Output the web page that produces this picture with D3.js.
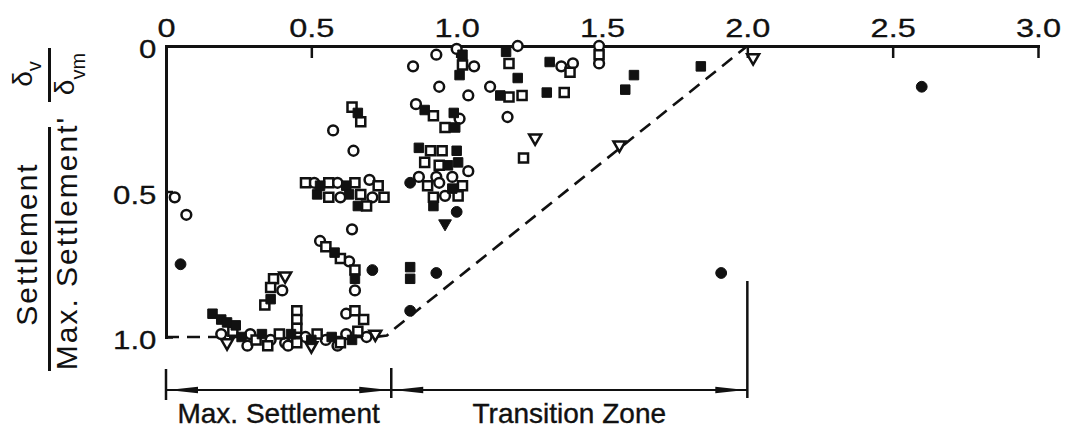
<!DOCTYPE html>
<html>
<head>
<meta charset="utf-8">
<script src="https://cdn.jsdelivr.net/npm/d3@7"></script>
<style>
  html, body { margin: 0; padding: 0; background: #fff; }
  svg { display: block; }
  text { fill: #111; font-family: "Liberation Sans", Arial, sans-serif; }
</style>
</head>
<body>
<svg id="chart" width="1066" height="432"></svg>
<script>
// Normalised settlement (δv / δvm) against distance ratio, grouped by marker type.
const xTicks = [0, 0.5, 1.0, 1.5, 2.0, 2.5, 3.0];
const yTicks = [0, 0.5, 1.0];

const openCircles = [
  [0.03,0.52],[0.07,0.58],
  [0.19,0.99],[0.29,0.99],[0.36,1.01],[0.28,1.03],[0.41,1.02],[0.42,1.03],[0.48,1.0],[0.55,1.01],
  [0.59,1.03],[0.62,0.99],[0.69,1.0],[0.62,0.92],
  [0.40,0.84],
  [0.53,0.67],[0.63,0.74],[0.65,0.84],
  [0.51,0.47],[0.59,0.47],[0.70,0.46],[0.60,0.52],[0.71,0.52],[0.64,0.63],
  [0.575,0.29],[0.645,0.36],
  [0.93,0.03],[0.85,0.07],[1.06,0.07],[0.94,0.14],[1.04,0.17],[0.86,0.20],[1.01,0.25],[1.0,0.01],
  [1.21,0.0],[1.115,0.14],[1.175,0.244],
  [1.36,0.07],[1.40,0.06],
  [1.49,0.0],[1.49,0.06],
  [1.04,0.43],[0.87,0.45],[0.93,0.45],[0.985,0.45],[0.94,0.47],[0.96,0.515]
];

const filledCircles = [
  [0.05,0.75],[0.71,0.77],[0.84,0.47],[1.0,0.57],[0.93,0.78],[0.84,0.91],[1.91,0.78],[2.6,0.14]
];

const openSquares = [
  [0.23,0.98],[0.31,1.01],[0.35,1.03],[0.39,0.99],[0.45,1.02],[0.45,0.91],[0.45,0.94],[0.45,0.97],
  [0.52,0.99],[0.60,1.02],[0.66,0.98],[0.65,0.91],[0.68,0.94],
  [0.37,0.80],[0.36,0.83],[0.34,0.89],
  [0.55,0.69],[0.60,0.73],[0.65,0.77],
  [0.48,0.47],[0.56,0.47],[0.65,0.47],[0.73,0.48],[0.56,0.52],[0.67,0.51],[0.75,0.52],[0.69,0.55],
  [0.64,0.21],[0.67,0.26],
  [1.02,0.065],[0.92,0.24],[0.96,0.28],
  [1.18,0.06],[1.18,0.175],[1.225,0.17],[1.23,0.385],
  [1.39,0.09],[1.37,0.16],
  [1.49,0.03],
  [0.91,0.36],[0.95,0.36],[0.89,0.40],[0.94,0.41],[0.90,0.48],[1.02,0.48],[0.92,0.52],[1.005,0.515]
];

const filledSquares = [
  [0.16,0.92],[0.19,0.94],[0.21,0.95],[0.24,0.96],[0.26,1.0],[0.33,0.99],[0.43,0.99],[0.50,1.01],
  [0.57,1.0],[0.64,1.01],
  [0.36,0.87],
  [0.58,0.71],[0.65,0.80],
  [0.53,0.48],[0.62,0.48],[0.52,0.51],[0.63,0.51],[0.66,0.55],
  [0.66,0.23],
  [1.02,0.03],[1.01,0.10],[0.89,0.22],[0.99,0.23],[0.995,0.28],
  [1.17,0.02],[1.21,0.11],[1.15,0.17],
  [1.32,0.055],[1.31,0.16],
  [1.61,0.10],[1.58,0.15],[1.84,0.07],
  [0.87,0.35],[1.0,0.36],[0.97,0.41],[1.005,0.40],[0.985,0.49],[0.92,0.55],
  [0.84,0.76],[0.84,0.80]
];

const openTriangles = [
  [0.21,1.02],[0.50,1.03],[0.72,0.99],[0.41,0.79],[1.27,0.316],[1.56,0.34],[2.02,0.04]
];

const filledTriangles = [[0.96,0.61]];

// Bounding envelope: flat at full settlement, then linear to zero at 2.0
const envelopeX = [0, 0.72, 0.76, 0.79, 2.0];
const envelopeY = [1.0, 1.0, 0.995, 0.968, 0.0];

// Zones marked beneath the plot
const zoneBounds = [0, 0.775, 2.0];
const zoneLabels = ["Max. Settlement", "Transition Zone"];

const svg = d3.select("#chart");
const ink = "#111";

const x = d3.scaleLinear().domain([0, 3]).range([166, 1038]);
const y = d3.scaleLinear().domain([0, 1]).range([46, 337]);

const fmt = d => d === 0 ? "0" : d.toFixed(1);

// Top axis (values printed above, ticks pointing into the plot)
const gx = svg.append("g")
  .attr("transform", `translate(0,${y(0)})`)
  .call(d3.axisTop(x).tickValues(xTicks).tickFormat(fmt)
    .tickSizeInner(-12).tickSizeOuter(0).tickPadding(9));
gx.select(".domain").attr("stroke", ink).attr("stroke-width", 3).attr("stroke-linecap", "square");
gx.selectAll(".tick line").attr("stroke", ink).attr("stroke-width", 2.5);
gx.selectAll(".tick text")
  .attr("fill", ink)
  .attr("stroke", ink).attr("stroke-width", 0.3)
  .style("font-family", "'Liberation Sans', Arial, sans-serif")
  .style("font-size", "26px")
  .attr("transform", "scale(1.25,1)");

// Left axis
const gy = svg.append("g")
  .attr("transform", `translate(${x(0)},0)`)
  .call(d3.axisLeft(y).tickValues(yTicks).tickFormat(fmt)
    .tickSizeInner(-7).tickSizeOuter(0).tickPadding(8));
gy.select(".domain").attr("stroke", ink).attr("stroke-width", 3).attr("stroke-linecap", "square");
gy.selectAll(".tick line").attr("stroke", ink).attr("stroke-width", 2.5);
gy.selectAll(".tick text")
  .attr("fill", ink)
  .attr("stroke", ink).attr("stroke-width", 0.3)
  .attr("dy", "0.45em")
  .style("font-family", "'Liberation Sans', Arial, sans-serif")
  .style("font-size", "26px")
  .attr("transform", "scale(1.2,1)");

// Envelope (dashed)
const envelope = envelopeX.map((v, i) => [v, envelopeY[i]]);
svg.append("path")
  .datum(envelope)
  .attr("fill", "none")
  .attr("stroke", ink)
  .attr("stroke-width", 2.6)
  .attr("stroke-dasharray", "13,8")
  .attr("d", d3.line().x(d => x(d[0])).y(d => y(d[1])));

// Markers
const marks = svg.append("g");
function drawSymbol(data, type, size, filled, rotate) {
  const sym = d3.symbol().type(type).size(size);
  marks.append("g").selectAll("path")
    .data(data)
    .join("path")
    .attr("d", sym)
    .attr("transform", d => `translate(${x(d[0])},${y(d[1])})` + (rotate ? " rotate(180)" : ""))
    .attr("fill", filled ? ink : "#fff")
    .attr("stroke", ink)
    .attr("stroke-width", filled ? 1 : 2.5);
}
drawSymbol(openCircles, d3.symbolCircle, 75, false, false);
drawSymbol(openSquares, d3.symbolSquare, 82, false, false);
drawSymbol(openTriangles, d3.symbolTriangle, 62, false, true);
drawSymbol(filledSquares, d3.symbolSquare, 90, true, false);
drawSymbol(filledCircles, d3.symbolCircle, 92, true, false);
drawSymbol(filledTriangles, d3.symbolTriangle, 70, true, true);

// Y axis title: δv/δvm and Settlement / Max. Settlement'
function rotText(bx, cy, parts) {
  const t = svg.append("text")
    .attr("transform", `translate(${bx},${cy}) rotate(-90)`)
    .attr("text-anchor", "middle");
  parts.forEach(p => {
    t.append("tspan").text(p.s)
      .style("font-size", p.size + "px")
      .attr("dy", p.dy || 0)
      .attr("letter-spacing", p.ls || 0);
  });
  return t;
}
rotText(32, 74, [{ s: "δ", size: 28 }, { s: "v", size: 20, dy: 9 }]);
rotText(74, 74, [{ s: "δ", size: 28 }, { s: "vm", size: 20, dy: 11 }]);
svg.append("line").attr("x1", 49.5).attr("x2", 49.5).attr("y1", 48).attr("y2", 102)
  .attr("stroke", ink).attr("stroke-width", 3);

rotText(37, 244, [{ s: "Settlement", size: 30, ls: 2 }]);
rotText(77, 243, [{ s: "Max. Settlement'", size: 30, ls: 2 }]);
svg.append("line").attr("x1", 49.5).attr("x2", 49.5).attr("y1", 127).attr("y2", 371)
  .attr("stroke", ink).attr("stroke-width", 3);

// Zone brackets beneath the plot
const zy = 390;
const zone = svg.append("g").attr("stroke", ink);
zone.append("line").attr("x1", x(zoneBounds[0])).attr("x2", x(zoneBounds[2]))
  .attr("y1", zy).attr("y2", zy).attr("stroke-width", 2);
zone.append("line").attr("x1", x(zoneBounds[0])).attr("x2", x(zoneBounds[0]))
  .attr("y1", 369).attr("y2", 400).attr("stroke-width", 2.5);
zone.append("line").attr("x1", x(zoneBounds[1])).attr("x2", x(zoneBounds[1]))
  .attr("y1", 368).attr("y2", 398).attr("stroke-width", 2.5);
zone.append("line").attr("x1", x(zoneBounds[2])).attr("x2", x(zoneBounds[2]))
  .attr("y1", 281).attr("y2", 398).attr("stroke-width", 2.5);

function arrowHead(tipX, dir) {
  const len = 30, hw = 3.2;
  const bx = tipX + dir * len;
  svg.append("path")
    .attr("d", `M${tipX},${zy}L${bx},${zy - hw}L${bx},${zy + hw}Z`)
    .attr("fill", ink);
}
arrowHead(x(zoneBounds[0]) + 2, 1);
arrowHead(x(zoneBounds[1]) - 2, -1);
arrowHead(x(zoneBounds[1]) + 2, 1);
arrowHead(x(zoneBounds[2]) - 2, -1);

zoneLabels.forEach((lab, i) => {
  svg.append("text")
    .attr("x", (x(zoneBounds[i]) + x(zoneBounds[i + 1])) / 2)
    .attr("y", 423)
    .attr("text-anchor", "middle")
    .style("font-size", "28px")
    .attr("stroke", ink)
    .attr("stroke-width", 0.4)
    .text(lab);
});
</script>
</body>
</html>
